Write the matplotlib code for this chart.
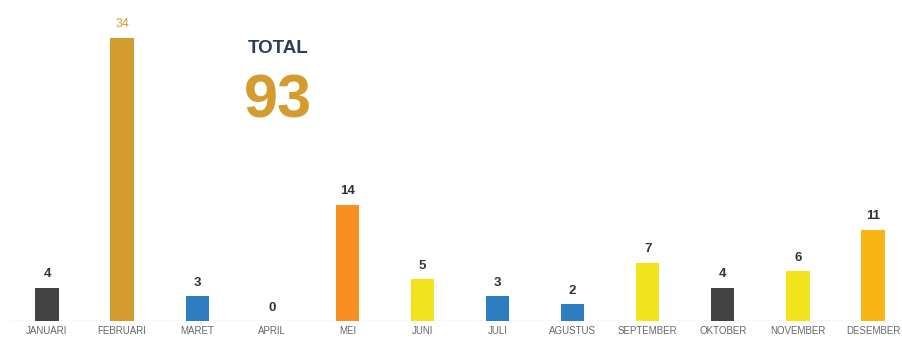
import matplotlib
matplotlib.use('Agg')
import matplotlib.pyplot as plt

bulan = ['JANUARI', 'FEBRUARI', 'MARET', 'APRIL', 'MEI', 'JUNI', 'JULI',
         'AGUSTUS', 'SEPTEMBER', 'OKTOBER', 'NOVEMBER', 'DESEMBER']
jumlah = [4, 34, 3, 0, 14, 5, 3, 2, 7, 4, 6, 11]
warna = ['#424242', '#D49B2F', '#2F7DC1', '#2F7DC1', '#F7901E', '#F1E31C',
         '#2F7DC1', '#2F7DC1', '#F1E31C', '#424242', '#F1E31C', '#F8B514']

plt.rcParams['font.family'] = ['Liberation Sans', 'DejaVu Sans']

fig = plt.figure(figsize=(9.03, 3.40), dpi=100)
ax = fig.add_axes([0, 19 / 340, 1, 321 / 340])

x = list(range(len(bulan)))
ax.bar(x, jumlah, width=0.31, color=warna, zorder=2)

for i, v in enumerate(jumlah):
    if i == 1:
        ax.text(i, v + 1.0, str(v), ha='center', va='bottom', fontsize=9,
                color='#D49B2F')
    else:
        ax.text(i, v + 0.9, str(v), ha='center', va='bottom', fontsize=9.5,
                fontweight='bold', color='#333333')

for i, b in enumerate(bulan):
    ax.text(i, -0.65, b, ha='center', va='top', fontsize=7,
            color='#666666')

ax.axhline(0, xmin=0.012, xmax=0.997, color='#dddddd', lw=1, zorder=1)

ax.text(3.08, 32.2, 'TOTAL', ha='center', va='baseline', fontsize=13.5,
        fontweight='bold', color='#2E3A5E')
ax.text(3.07, 24.5, str(sum(jumlah)), ha='center', va='baseline', fontsize=44,
        fontweight='bold', color='#D49B2F')

ax.set_xlim(-0.626, 11.40)
ax.set_ylim(0, 38.6)
ax.axis('off')

fig.savefig('out.png', dpi=100)
